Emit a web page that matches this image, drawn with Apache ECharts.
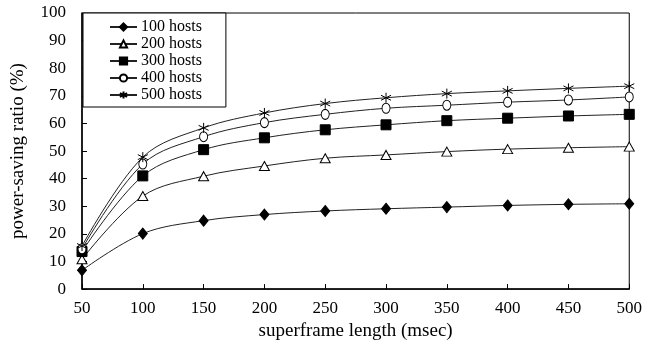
<!DOCTYPE html>
<html>
<head>
<meta charset="utf-8">
<script src="https://cdn.jsdelivr.net/npm/echarts@6/dist/echarts.min.js"></script>
<style>
  html, body { margin: 0; padding: 0; background: #fff; }
  #chart { width: 645px; height: 346px; }
</style>
</head>
<body>
<div id="chart"></div>
<script>
const frameLengths = [50, 100, 150, 200, 250, 300, 350, 400, 450, 500]
const hosts100 = [6.8, 20.1, 24.8, 27.0, 28.3, 29.1, 29.7, 30.3, 30.7, 30.9]
const hosts200 = [10.8, 33.7, 40.9, 44.6, 47.4, 48.6, 49.8, 50.7, 51.2, 51.6]
const hosts300 = [13.6, 41.0, 50.5, 54.8, 57.7, 59.5, 61.0, 61.9, 62.7, 63.3]
const hosts400 = [14.6, 45.3, 55.2, 60.3, 63.3, 65.5, 66.6, 67.7, 68.5, 69.6]
const hosts500 = [15.6, 47.8, 58.4, 63.8, 67.2, 69.3, 70.8, 71.8, 72.7, 73.5]
const seriesNames = ["100 hosts", "200 hosts", "300 hosts", "400 hosts", "500 hosts"]

const asterisk = "path://M5,0L5,10M0.7,2.5L9.3,7.5M0.7,7.5L9.3,2.5"
const font = "Liberation Serif"

const makeSeries = (name, data, symbol, size, fill) => ({
  name: name,
  type: "line",
  smooth: 0.35,
  data: data.map((v, i) => [frameLengths[i], v]),
  symbol: symbol,
  symbolSize: size,
  lineStyle: { color: "#222", width: 1 },
  itemStyle: { color: fill, borderColor: "#000", borderWidth: 1 },
  emphasis: { disabled: true },
})

const chart = echarts.init(document.getElementById("chart"))
chart.setOption({
  animation: false,
  backgroundColor: "#fff",
  textStyle: { fontFamily: font, color: "#000" },
  grid: {
    left: 82,
    right: 12,
    top: 13,
    bottom: 55,
    show: true,
    borderColor: "#000",
    borderWidth: 1,
  },
  legend: {
    orient: "vertical",
    left: 83,
    top: 13,
    padding: [6, 24, 4, 26],
    itemGap: 1,
    itemWidth: 27,
    itemHeight: 9,
    backgroundColor: "#fff",
    borderColor: "#000",
    borderWidth: 1,
    borderRadius: 0,
    textStyle: { fontFamily: font, fontSize: 16, lineHeight: 16, color: "#000", padding: [0, 0, 0, -1] },
    data: seriesNames,
  },
  xAxis: {
    type: "value",
    min: 50,
    max: 500,
    interval: 50,
    name: "superframe length (msec)",
    nameLocation: "middle",
    nameGap: 31,
    nameTextStyle: { fontFamily: font, fontSize: 19, color: "#000" },
    axisLine: { lineStyle: { color: "#000", width: 1.5 } },
    axisTick: { inside: true, length: 5, lineStyle: { color: "#000" } },
    axisLabel: { fontFamily: font, fontSize: 17, color: "#000", margin: 11 },
    splitLine: { show: false },
  },
  yAxis: {
    type: "value",
    min: 0,
    max: 100,
    interval: 10,
    name: "power-saving ratio (%)",
    nameLocation: "middle",
    nameGap: 54,
    nameTextStyle: { fontFamily: font, fontSize: 19, color: "#000" },
    axisLine: { show: true, lineStyle: { color: "#000", width: 1.5 } },
    axisTick: { show: true, inside: true, length: 5, lineStyle: { color: "#000" } },
    axisLabel: { fontFamily: font, fontSize: 17, color: "#000", margin: 16 },
    splitLine: { show: false },
  },
  series: [
    makeSeries(seriesNames[0], hosts100, "diamond", [9, 11], "#000"),
    makeSeries(seriesNames[1], hosts200, "triangle", [10, 9], "#fff"),
    makeSeries(seriesNames[2], hosts300, "rect", 10, "#000"),
    makeSeries(seriesNames[3], hosts400, "circle", [8, 10], "#fff"),
    makeSeries(seriesNames[4], hosts500, asterisk, 10, "none"),
  ],
})
</script>
</body>
</html>
